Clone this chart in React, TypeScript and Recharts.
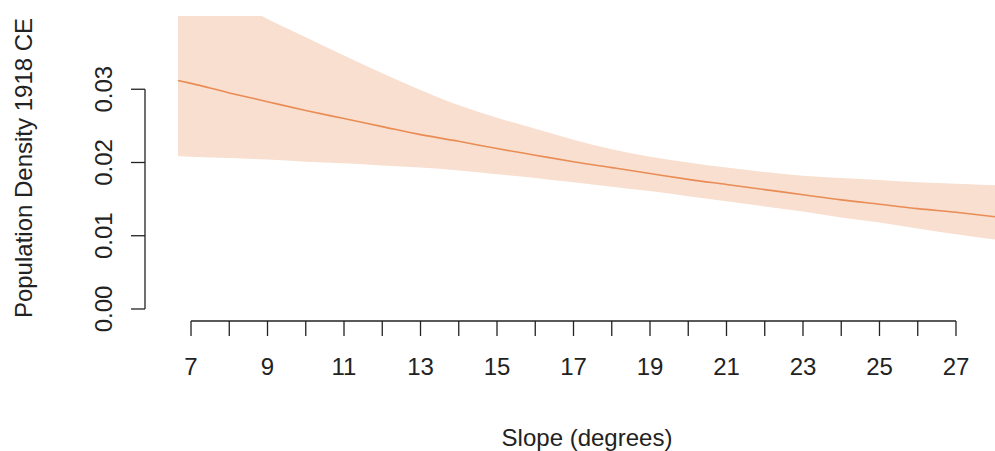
import { ComposedChart, Area, Line, XAxis, YAxis, ReferenceLine, Label } from 'recharts';

// values
const slope = [6.66, 7, 8, 9, 10, 11, 12, 13, 14, 15, 16, 17, 18, 19, 20, 21, 22, 23, 24, 25, 26, 27, 28.02];
const fitted = [0.0312, 0.0308, 0.0295, 0.0283, 0.0271, 0.026, 0.0249, 0.0238, 0.0229, 0.0219, 0.021, 0.0201, 0.0193, 0.0185, 0.0177, 0.017, 0.0163, 0.0156, 0.0149, 0.0143, 0.0137, 0.0132, 0.0126];
const upper = [0.0467, 0.0456, 0.0425, 0.0396, 0.0371, 0.0346, 0.0322, 0.0299, 0.0278, 0.0261, 0.0246, 0.0231, 0.0218, 0.0208, 0.02, 0.0193, 0.0187, 0.0182, 0.0179, 0.0176, 0.0173, 0.0171, 0.0169];
const lower = [0.0209, 0.0208, 0.0206, 0.0204, 0.0201, 0.0199, 0.0196, 0.0193, 0.0189, 0.0184, 0.0179, 0.0173, 0.0167, 0.0161, 0.0154, 0.0147, 0.014, 0.0133, 0.0125, 0.0118, 0.011, 0.0102, 0.0095];

const xTicks = [7, 8, 9, 10, 11, 12, 13, 14, 15, 16, 17, 18, 19, 20, 21, 22, 23, 24, 25, 26, 27];
const yTicks = [0, 0.01, 0.02, 0.03];

const FONT = '"Liberation Sans", Arial, sans-serif';
const INK = '#222';

const data = slope.map((x, i) => ({ x, fit: fitted[i], band: [lower[i], upper[i]] }));

function XTick(props: any) {
  const { x, payload } = props;
  if (payload.value % 2 === 0) return null;
  return (
    <text x={x} y={375} textAnchor="middle" fontSize={24} fontFamily={FONT} fill={INK}>
      {payload.value}
    </text>
  );
}

function YTick(props: any) {
  const { y, payload } = props;
  return (
    <text
      x={112}
      y={y}
      transform={`rotate(-90, 112, ${y})`}
      textAnchor="middle"
      fontSize={24}
      fontFamily={FONT}
      fill={INK}
    >
      {payload.value.toFixed(2)}
    </text>
  );
}

export default function App() {
  const yBottom = -0.00164;
  return (
    <div style={{ position: 'absolute', left: 0, top: 0, width: 995, height: 451, background: '#fff' }}>
      <ComposedChart width={995} height={451} data={data} margin={{ top: 16, right: 0, left: 0, bottom: 0 }}>
        <XAxis
          type="number"
          dataKey="x"
          domain={[5.797, 28.02]}
          ticks={xTicks}
          interval={0}
          height={130}
          axisLine={false}
          tickSize={15}
          tickLine={{ stroke: INK, strokeWidth: 1.3 }}
          tick={<XTick />}
        >
          <Label
            content={() => (
              <text x={587} y={446} textAnchor="middle" fontSize={24} fontFamily={FONT} fill={INK}>
                Slope (degrees)
              </text>
            )}
          />
        </XAxis>
        <YAxis
          type="number"
          domain={[yBottom, 0.04]}
          allowDataOverflow
          ticks={yTicks}
          interval={0}
          width={145}
          axisLine={false}
          tickSize={14}
          tickLine={{ stroke: INK, strokeWidth: 1.3 }}
          tick={<YTick />}
        >
          <Label
            content={() => (
              <text
                x={32}
                y={168}
                transform="rotate(-90, 32, 168)"
                textAnchor="middle"
                fontSize={24}
                fontFamily={FONT}
                fill={INK}
              >
                Population Density 1918 CE
              </text>
            )}
          />
        </YAxis>
        <Area
          type="monotone"
          dataKey="band"
          stroke="none"
          fill="#F8DFCF"
          fillOpacity={1}
          isAnimationActive={false}
          activeDot={false}
        />
        <Line
          type="monotone"
          dataKey="fit"
          stroke="#EA8C55"
          strokeWidth={1.6}
          dot={false}
          activeDot={false}
          isAnimationActive={false}
        />
        <ReferenceLine
          segment={[{ x: 7, y: yBottom }, { x: 27, y: yBottom }]}
          stroke={INK}
          strokeWidth={1.3}
          ifOverflow="visible"
        />
        <ReferenceLine
          segment={[{ x: 5.797, y: 0 }, { x: 5.797, y: 0.03 }]}
          stroke={INK}
          strokeWidth={1.3}
          ifOverflow="visible"
        />
      </ComposedChart>
    </div>
  );
}
